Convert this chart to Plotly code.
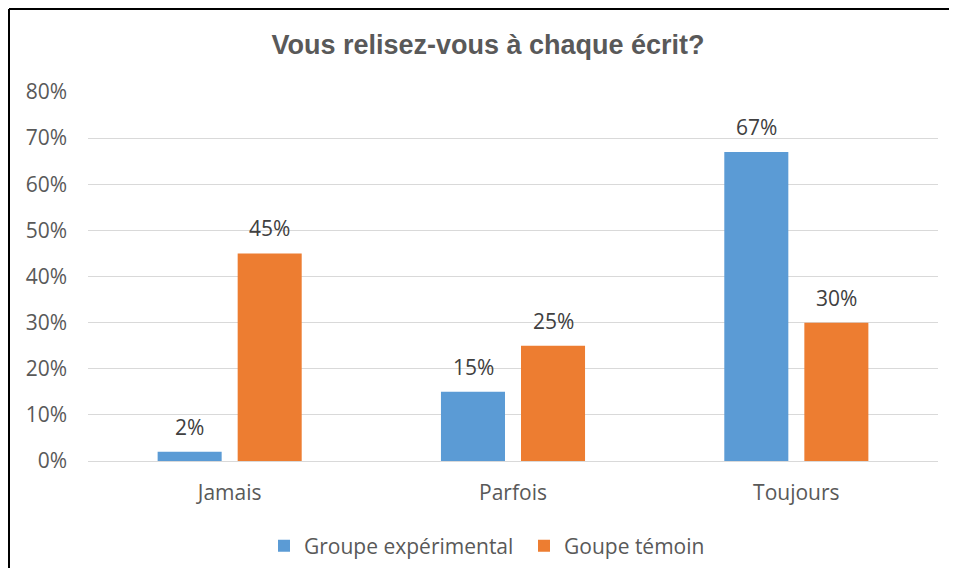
import plotly.graph_objects as go

categories = ["Jamais", "Parfois", "Toujours"]
experimental = [0.02, 0.15, 0.67]
temoin = [0.45, 0.25, 0.30]
series_names = ["Groupe expérimental", "Goupe témoin"]
y_ticks = [0, 0.1, 0.2, 0.3, 0.4, 0.5, 0.6, 0.7, 0.8]

BLUE = "#5B9BD5"
ORANGE = "#ED7D31"
TEXT = "#595959"
FONT = "'Open Sans', Lato, sans-serif"
FS = 21

# page body has an 8px margin, so the figure is a bit smaller than the window
W, H = 941, 560
ML, MR, MT, MB = 80, 11, 84, 107
PW, PH = W - ML - MR, H - MT - MB

fig = go.Figure()
for name, vals, col in [(series_names[0], experimental, BLUE), (series_names[1], temoin, ORANGE)]:
    fig.add_trace(go.Bar(name=name, x=categories, y=vals, marker_color=col, marker_line_width=0))

# value labels, placed above each bar of the group
for shift, vals in [(-40, experimental), (40, temoin)]:
    for cat, v in zip(categories, vals):
        fig.add_annotation(x=cat, y=v, text=f"{v:.0%}", showarrow=False, xshift=shift,
                           yanchor="bottom", yshift=9,
                           font=dict(family=FONT, size=FS, color="#404040"))

fig.update_layout(
    width=W, height=H,
    margin=dict(l=ML, r=MR, t=MT, b=MB, autoexpand=False),
    paper_bgcolor="white", plot_bgcolor="white",
    barmode="group", bargap=0.435, bargroupgap=0.2,
    title=dict(text="<b>Vous relisez-vous à chaque écrit?</b>", x=(488 - 8) / W,
               xanchor="center", y=1 - 37 / H, yanchor="middle",
               font=dict(family="'Liberation Sans', Arial, sans-serif", size=27, color=TEXT)),
    font=dict(family=FONT, size=FS, color=TEXT),
    legend=dict(orientation="h", x=(524 - 8) / W, xanchor="center", xref="container",
                y=1 - 538 / H, yanchor="middle", yref="container",
                font=dict(family=FONT, size=FS, color=TEXT), itemwidth=30, entrywidth=215),
    showlegend=True,
)
fig.update_yaxes(range=[0, 0.8], tickvals=y_ticks, tickformat=".0%",
                 showgrid=True, gridcolor="#D9D9D9", gridwidth=1,
                 zeroline=True, zerolinecolor="#D9D9D9", zerolinewidth=1,
                 showline=False, ticks="", ticklabelstandoff=20,
                 tickfont=dict(family=FONT, size=FS, color=TEXT))
fig.update_xaxes(showline=False, ticks="", tickfont=dict(family=FONT, size=FS, color=TEXT),
                 ticklabelstandoff=17)

# frame: only the top and left edges fall inside the window
top = (PH + MT - 1) / PH
left = (1 - ML) / PW
fig.add_shape(type="line", xref="paper", yref="paper", x0=left, x1=1.3, y0=top, y1=top,
              line=dict(color="black", width=2), layer="above")
fig.add_shape(type="line", xref="paper", yref="paper", x0=left, x1=left, y0=-0.6, y1=top,
              line=dict(color="black", width=2), layer="above")

fig.write_html("out.html")
